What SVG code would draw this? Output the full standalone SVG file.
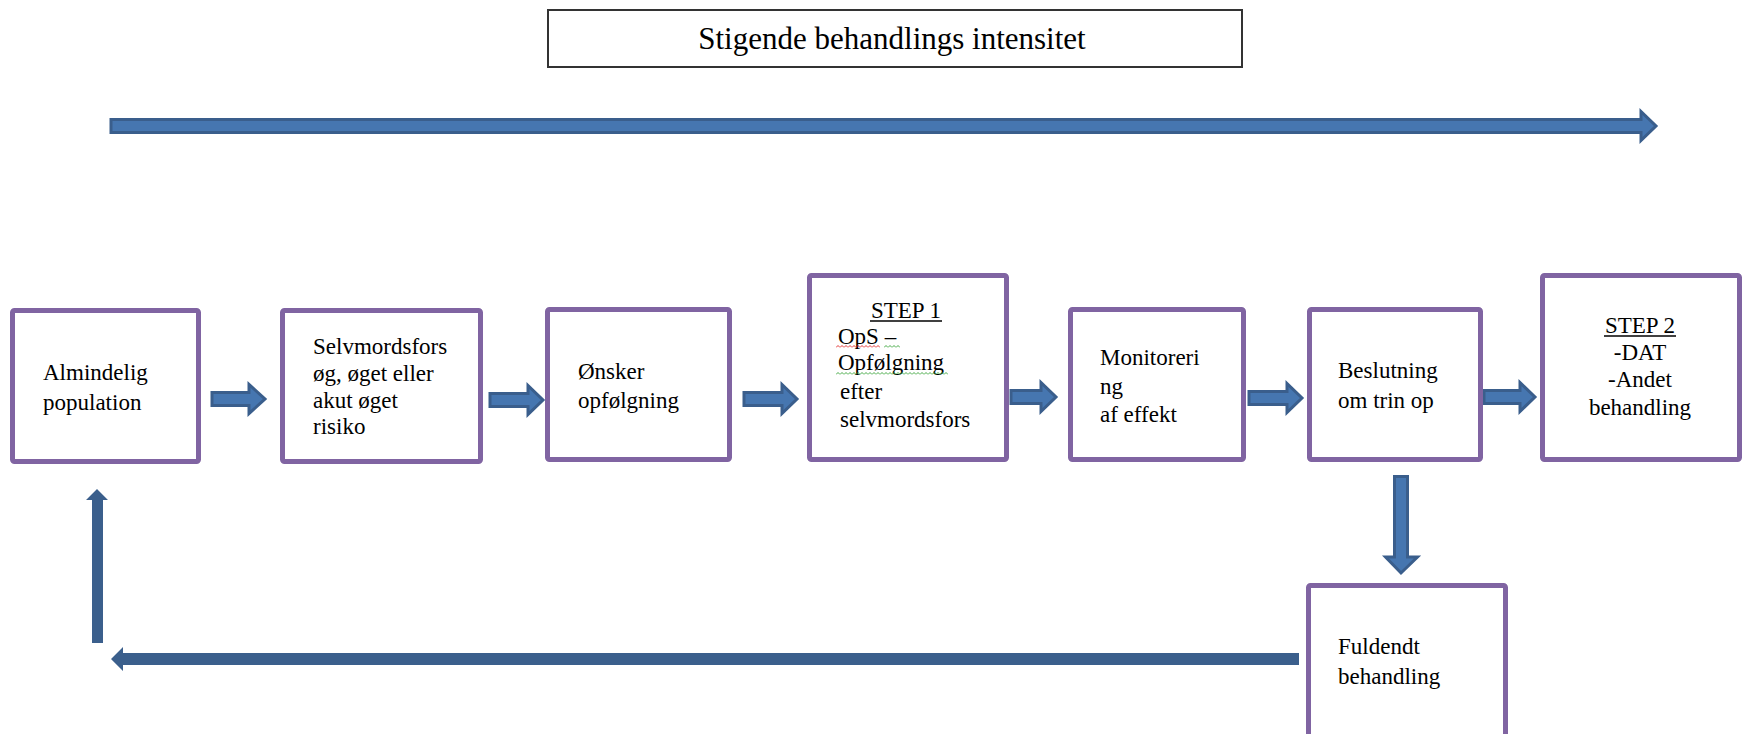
<svg xmlns="http://www.w3.org/2000/svg" width="1743" height="734" viewBox="0 0 1743 734" font-family="'Liberation Serif', 'Times New Roman', serif">
<style>
.box{fill:#ffffff;stroke:#8064A2;stroke-width:5}
.blk{fill:#4676B0;stroke:#3A5E8C;stroke-width:3;stroke-linejoin:miter}
.sol{fill:#3B5F8C}
.ul{stroke:#000;stroke-width:1.5}
</style>
<defs>
<pattern id="wavR" width="4" height="3" patternUnits="userSpaceOnUse"><path d="M0,2.5 L2,0.5 L4,2.5" fill="none" stroke="#E02020" stroke-width="0.9"/></pattern>
<pattern id="wavG" width="4" height="3" patternUnits="userSpaceOnUse"><path d="M0,2.5 L2,0.5 L4,2.5" fill="none" stroke="#30A030" stroke-width="0.9"/></pattern>
</defs>
<rect width="1743" height="734" fill="#ffffff"/>

<g id="title">
<rect x="548" y="10" width="694" height="57" fill="#ffffff" stroke="#333333" stroke-width="2"/>
<text x="892" y="49" font-family="Liberation Serif, serif" font-size="31" text-anchor="middle" fill="#000">Stigende behandlings intensitet</text>
</g>

<g id="connectors">
<polygon class="blk" points="111,119.5 1641,119.5 1641,111.5 1656,126 1641,140.5 1641,132.5 111,132.5"/>
<polygon class="blk" points="212,392.5 249,392.5 249,384.5 265,399 249,413.5 249,405.5 212,405.5"/>
<polygon class="blk" points="490,393.5 528,393.5 528,385.5 543,400 528,414.5 528,406.5 490,406.5"/>
<polygon class="blk" points="744,392.5 782,392.5 782,384.5 797,399 782,413.5 782,405.5 744,405.5"/>
<polygon class="blk" points="1011,390.5 1041,390.5 1041,382.5 1056,397 1041,411.5 1041,403.5 1011,403.5"/>
<polygon class="blk" points="1249,391.5 1287,391.5 1287,383.5 1302,398 1287,412.5 1287,404.5 1249,404.5"/>
<polygon class="blk" points="1484,390.5 1520,390.5 1520,382.5 1535,397 1520,411.5 1520,403.5 1484,403.5"/>
<polygon class="blk" points="1394.5,476.5 1407.5,476.5 1407.5,557 1417.5,557 1401,573 1385.5,557 1394.5,557"/>
<polygon class="sol" points="1299,653 123,653 123,647 111,659 123,671 123,665 1299,665"/>
<polygon class="sol" points="92,643 92,500 86,500 97,489 108,500 103,500 103,643"/>
</g>

<g font-family="Liberation Serif, serif" font-size="23" fill="#000">
<g id="n1">
<rect class="box" x="12.5" y="310.5" width="186" height="151" rx="2"/>
<text x="43" y="380">Almindelig</text>
<text x="43" y="410">population</text>
</g>

<g id="n2">
<rect class="box" x="282.5" y="310.5" width="198" height="151" rx="2"/>
<text x="313" y="354">Selvmordsfors</text>
<text x="313" y="381">øg, øget eller</text>
<text x="313" y="408">akut øget</text>
<text x="313" y="434">risiko</text>
</g>

<g id="n3">
<rect class="box" x="547.5" y="309.5" width="182" height="150" rx="2"/>
<text x="578" y="379">Ønsker</text>
<text x="578" y="408">opfølgning</text>
</g>

<g id="n4">
<rect class="box" x="809.5" y="275.5" width="197" height="184" rx="2"/>
<text x="906" y="318" text-anchor="middle">STEP 1</text>
<line class="ul" x1="870" y1="321" x2="942" y2="321"/>
<text x="838" y="344">OpS –</text>
<rect x="836" y="345" width="44" height="3" fill="url(#wavR)"/>
<rect x="884" y="345" width="16" height="3" fill="url(#wavG)"/>
<text x="838" y="370">Opfølgning</text>
<rect x="836" y="372" width="112" height="3" fill="url(#wavG)"/>
<text x="840" y="399">efter</text>
<text x="840" y="427">selvmordsfors</text>
</g>

<g id="n5">
<rect class="box" x="1070.5" y="309.5" width="173" height="150" rx="2"/>
<text x="1100" y="365">Monitoreri</text>
<text x="1100" y="394">ng</text>
<text x="1100" y="422">af effekt</text>
</g>

<g id="n6">
<rect class="box" x="1309.5" y="309.5" width="171" height="150" rx="2"/>
<text x="1338" y="378">Beslutning</text>
<text x="1338" y="408">om trin op</text>
</g>

<g id="n7">
<rect class="box" x="1542.5" y="275.5" width="197" height="184" rx="2"/>
<text x="1640" y="333" text-anchor="middle">STEP 2</text>
<line class="ul" x1="1604" y1="336" x2="1676" y2="336"/>
<text x="1640" y="360" text-anchor="middle">-DAT</text>
<text x="1640" y="387" text-anchor="middle">-Andet</text>
<text x="1640" y="415" text-anchor="middle">behandling</text>
</g>

<g id="n8">
<rect class="box" x="1308.5" y="585.5" width="197" height="180" rx="2"/>
<text x="1338" y="654">Fuldendt</text>
<text x="1338" y="684">behandling</text>
</g>
</g>
</svg>
